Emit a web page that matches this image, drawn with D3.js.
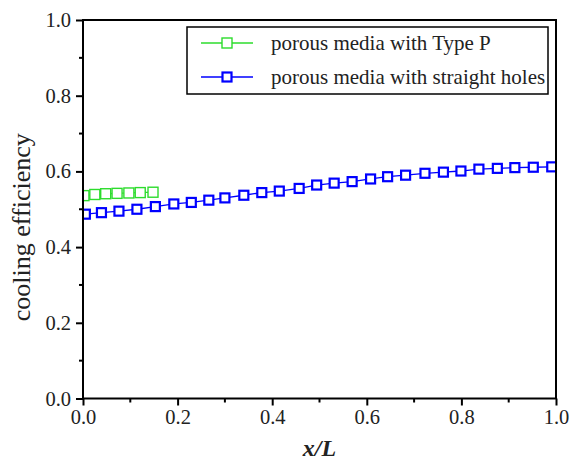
<!DOCTYPE html>
<meta charset="utf-8">
<script src="https://d3js.org/d3.v7.min.js"></script>
<style>
  body { margin: 0; background: #fff; }
  text { font-family: "Liberation Serif", "Times New Roman", serif; fill: #222; }
</style>
<div id="chart"></div>
<script>
// data
var seriesNames = ["porous media with Type P", "porous media with straight holes"];
var seriesColors = ["#2ddc2d", "#0000ff"];

var greenX = [0.002, 0.025, 0.048, 0.072, 0.097, 0.121, 0.148];
var greenY = [0.536, 0.539, 0.541, 0.542, 0.543, 0.544, 0.545];

var blueX = [0.005, 0.039, 0.076, 0.114, 0.153, 0.192, 0.229, 0.266, 0.300, 0.340,
             0.378, 0.415, 0.457, 0.494, 0.531, 0.569, 0.608, 0.644, 0.682, 0.723,
             0.762, 0.799, 0.837, 0.876, 0.913, 0.952, 0.991];
var blueY = [0.487, 0.491, 0.495, 0.500, 0.507, 0.514, 0.518, 0.524, 0.530, 0.537,
             0.544, 0.548, 0.555, 0.564, 0.569, 0.573, 0.580, 0.586, 0.590, 0.595,
             0.598, 0.601, 0.606, 0.608, 0.610, 0.611, 0.612];

var xTicks = [0, 0.2, 0.4, 0.6, 0.8, 1.0];
var yTicks = [0, 0.2, 0.4, 0.6, 0.8, 1.0];
var minorTicks = [0.1, 0.3, 0.5, 0.7, 0.9];

var W = 570, H = 460;
var margin = {top: 20, right: 14, bottom: 61.5, left: 83};
var width = W - margin.left - margin.right,
    height = H - margin.top - margin.bottom;

var svg = d3.select("#chart").append("svg")
    .attr("width", W).attr("height", H);
var g = svg.append("g")
    .attr("transform", "translate(" + margin.left + "," + margin.top + ")");

var x = d3.scaleLinear().domain([0, 1]).range([0, width]);
var y = d3.scaleLinear().domain([0, 1]).range([height, 0]);

// clip to the frame
g.append("defs").append("clipPath").attr("id", "clip")
  .append("rect").attr("width", width).attr("height", height);

var plot = g.append("g").attr("clip-path", "url(#clip)");

function zipPts(xs, ys) { return xs.map(function(d, i) { return [d, ys[i]]; }); }
var series = [
  {pts: zipPts(greenX, greenY), color: seriesColors[0], size: 10, sw: 1.4},
  {pts: zipPts(blueX, blueY), color: seriesColors[1], size: 9, sw: 2.2}
];

var line = d3.line().x(function(d) { return x(d[0]); }).y(function(d) { return y(d[1]); });

series.forEach(function(s) {
  plot.append("path").datum(s.pts)
    .attr("fill", "none").attr("stroke", s.color).attr("stroke-width", 1.3)
    .attr("d", line);
  plot.selectAll(null).data(s.pts).enter().append("rect")
    .attr("x", function(d) { return x(d[0]) - s.size / 2; })
    .attr("y", function(d) { return y(d[1]) - s.size / 2; })
    .attr("width", s.size).attr("height", s.size)
    .attr("fill", "#fff").attr("stroke", s.color).attr("stroke-width", s.sw);
});

// axes
var xAxis = g.append("g").attr("transform", "translate(0," + height + ")")
  .call(d3.axisBottom(x).tickValues(xTicks).tickFormat(d3.format(".1f")).tickSize(7).tickPadding(4));
xAxis.append("g").selectAll("line").data(minorTicks).enter().append("line")
  .attr("x1", x).attr("x2", x).attr("y1", 0).attr("y2", 4).attr("stroke", "#000").attr("stroke-width", 2);

var yAxis = g.append("g")
  .call(d3.axisLeft(y).tickValues(yTicks).tickFormat(d3.format(".1f")).tickSize(7).tickPadding(5));
yAxis.append("g").selectAll("line").data(minorTicks).enter().append("line")
  .attr("y1", y).attr("y2", y).attr("x1", 0).attr("x2", -4).attr("stroke", "#000").attr("stroke-width", 2);

[xAxis, yAxis].forEach(function(a) {
  a.attr("font-family", "Liberation Serif").attr("font-size", 20.5);
  a.select(".domain").remove();
  a.selectAll(".tick line").attr("stroke", "#000").attr("stroke-width", 2);
  a.selectAll(".tick text").attr("fill", "#222");
});

// frame
g.append("rect").attr("width", width).attr("height", height)
  .attr("fill", "none").attr("stroke", "#000").attr("stroke-width", 2);

// axis titles
svg.append("text")
  .attr("transform", "translate(21," + (margin.top + height / 2 + 18) + ") rotate(-90)")
  .attr("text-anchor", "middle").attr("dominant-baseline", "central")
  .style("font-size", "26px").text("cooling efficiency");

svg.append("text")
  .attr("x", margin.left + width / 2).attr("y", 456)
  .attr("text-anchor", "middle")
  .style("font-size", "24px").style("font-weight", "bold").style("font-style", "italic")
  .text("x/L");

// legend
var leg = svg.append("g");
leg.append("rect").attr("x", 187).attr("y", 27).attr("width", 361).attr("height", 67)
  .attr("fill", "#fff").attr("stroke", "#000").attr("stroke-width", 1.5);
series.forEach(function(s, i) {
  var cy = 43 + i * 34;
  leg.append("line").attr("x1", 201).attr("x2", 253).attr("y1", cy).attr("y2", cy)
    .attr("stroke", s.color).attr("stroke-width", 1.3);
  leg.append("rect").attr("x", 227 - s.size / 2).attr("y", cy - s.size / 2)
    .attr("width", s.size).attr("height", s.size)
    .attr("fill", "#fff").attr("stroke", s.color).attr("stroke-width", s.sw);
  leg.append("text").attr("x", 271).attr("y", cy).attr("dominant-baseline", "central")
    .style("font-size", "21px").text(seriesNames[i]);
});
</script>
